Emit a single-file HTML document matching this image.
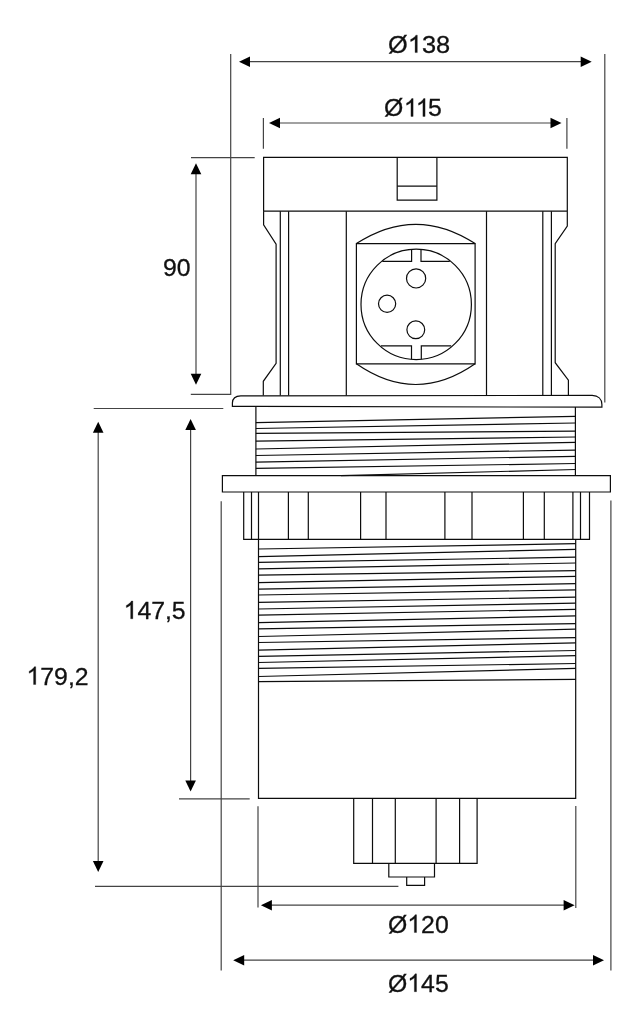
<!DOCTYPE html>
<html><head><meta charset="utf-8"><title>Dimensions</title>
<style>
html,body{margin:0;padding:0;background:#fff;}
body{width:643px;height:1009px;overflow:hidden;}
svg{display:block;will-change:transform;}
text{font-family:"Liberation Sans",sans-serif;fill:#111;stroke:#111;stroke-width:0.3px;}
.h{fill:none;stroke:none;}
</style></head><body>
<svg width="643" height="1009" viewBox="0 0 643 1009">
<rect width="643" height="1009" fill="#fff"/>
<line x1="230.7" y1="54" x2="230.7" y2="394.9" stroke="#444444" stroke-width="1.2"/>
<line x1="604.8" y1="54" x2="604.8" y2="402.5" stroke="#444444" stroke-width="1.2"/>
<line x1="245" y1="61.7" x2="586" y2="61.7" stroke="#444444" stroke-width="1.2"/>
<polygon points="239.0,61.7 250.0,56.400000000000006 250.0,67.0" fill="#000"/>
<polygon points="591.7,61.7 580.7,56.400000000000006 580.7,67.0" fill="#000"/>
<g transform="translate(388.1,52.6) scale(1.045,1)"><text y="0" font-size="24.3" x="0.00 18.90 32.42 45.93">Ø<tspan class="h">1</tspan>38</text><path d="M763 0H583V1147Q518 1085 412.5 1023Q307 961 223 930V1104Q374 1175 487 1276Q600 1377 647 1472H763Z" transform="translate(18.90,0) scale(0.01187,-0.01187)" fill="#111" stroke="#111" stroke-width="25.3"/></g>
<line x1="263.4" y1="118" x2="263.4" y2="148.8" stroke="#444444" stroke-width="1.2"/>
<line x1="566.9" y1="118" x2="566.9" y2="148.8" stroke="#444444" stroke-width="1.2"/>
<line x1="275" y1="123" x2="556" y2="123" stroke="#444444" stroke-width="1.2"/>
<polygon points="269,123 280,117.7 280,128.3" fill="#000"/>
<polygon points="561.5,123 550.5,117.7 550.5,128.3" fill="#000"/>
<g transform="translate(384.0,116.4) scale(1.0,1)"><text y="0" font-size="24.8" x="0.00 19.89 31.84 44.04">Ø<tspan class="h">1</tspan><tspan class="h">1</tspan>5</text><path d="M763 0H583V1147Q518 1085 412.5 1023Q307 961 223 930V1104Q374 1175 487 1276Q600 1377 647 1472H763Z" transform="translate(19.89,0) scale(0.01211,-0.01211)" fill="#111" stroke="#111" stroke-width="24.8"/><path d="M763 0H583V1147Q518 1085 412.5 1023Q307 961 223 930V1104Q374 1175 487 1276Q600 1377 647 1472H763Z" transform="translate(31.84,0) scale(0.01211,-0.01211)" fill="#111" stroke="#111" stroke-width="24.8"/></g>
<line x1="191" y1="157.7" x2="254.7" y2="157.7" stroke="#444444" stroke-width="1.2"/>
<line x1="190.8" y1="394.45" x2="230.7" y2="394.45" stroke="#444444" stroke-width="1.2"/>
<line x1="196" y1="170" x2="196" y2="378" stroke="#444444" stroke-width="1.2"/>
<polygon points="196,163.3 190.7,174.3 201.3,174.3" fill="#000"/>
<polygon points="196,384.7 190.7,373.7 201.3,373.7" fill="#000"/>
<g transform="translate(162.9,276.4) scale(1.0,1)"><text y="0" font-size="24.8" x="0.00 13.79">90</text></g>
<line x1="93.7" y1="408.5" x2="223.3" y2="408.5" stroke="#444444" stroke-width="1.2"/>
<line x1="190.6" y1="425" x2="190.6" y2="785" stroke="#444444" stroke-width="1.2"/>
<polygon points="190.6,419 185.29999999999998,430 195.9,430" fill="#000"/>
<polygon points="190.6,791.5 185.29999999999998,780.5 195.9,780.5" fill="#000"/>
<line x1="179" y1="798.8" x2="249.7" y2="798.8" stroke="#444444" stroke-width="1.2"/>
<g transform="translate(123.6,618.8) scale(1.0,1)"><text y="0" font-size="24.8" x="0.00 13.79 27.59 41.38 48.27"><tspan class="h">1</tspan>47,5</text><path d="M763 0H583V1147Q518 1085 412.5 1023Q307 961 223 930V1104Q374 1175 487 1276Q600 1377 647 1472H763Z" transform="translate(0.00,0) scale(0.01211,-0.01211)" fill="#111" stroke="#111" stroke-width="24.8"/></g>
<line x1="98.2" y1="428" x2="98.2" y2="866" stroke="#444444" stroke-width="1.2"/>
<polygon points="98.2,421.8 92.9,432.8 103.5,432.8" fill="#000"/>
<polygon points="98.2,872 92.9,861 103.5,861" fill="#000"/>
<line x1="95" y1="886.4" x2="398.4" y2="886.4" stroke="#444444" stroke-width="1.2"/>
<g transform="translate(26.5,684.5) scale(1.0,1)"><text y="0" font-size="24.8" x="0.00 13.79 27.59 41.38 48.27"><tspan class="h">1</tspan>79,2</text><path d="M763 0H583V1147Q518 1085 412.5 1023Q307 961 223 930V1104Q374 1175 487 1276Q600 1377 647 1472H763Z" transform="translate(0.00,0) scale(0.01211,-0.01211)" fill="#111" stroke="#111" stroke-width="24.8"/></g>
<line x1="258" y1="806.3" x2="258" y2="907.5" stroke="#444444" stroke-width="1.2"/>
<line x1="575.8" y1="806" x2="575.8" y2="907.9" stroke="#444444" stroke-width="1.2"/>
<line x1="266" y1="905.2" x2="569" y2="905.2" stroke="#444444" stroke-width="1.2"/>
<polygon points="260.9,905.2 271.9,899.9000000000001 271.9,910.5" fill="#000"/>
<polygon points="574.6,905.2 563.6,899.9000000000001 563.6,910.5" fill="#000"/>
<g transform="translate(388.0,932.5) scale(1.0,1)"><text y="0" font-size="24.8" x="0.00 19.29 33.08 46.88">Ø<tspan class="h">1</tspan>20</text><path d="M763 0H583V1147Q518 1085 412.5 1023Q307 961 223 930V1104Q374 1175 487 1276Q600 1377 647 1472H763Z" transform="translate(19.29,0) scale(0.01211,-0.01211)" fill="#111" stroke="#111" stroke-width="24.8"/></g>
<line x1="221.2" y1="501.3" x2="221.2" y2="970.5" stroke="#444444" stroke-width="1.2"/>
<line x1="610.9" y1="500.5" x2="610.9" y2="970.5" stroke="#444444" stroke-width="1.2"/>
<line x1="239" y1="960.2" x2="598" y2="960.2" stroke="#444444" stroke-width="1.2"/>
<polygon points="233.2,960.2 244.2,954.9000000000001 244.2,965.5" fill="#000"/>
<polygon points="604,960.2 593,954.9000000000001 593,965.5" fill="#000"/>
<g transform="translate(388.0,991.7) scale(1.0,1)"><text y="0" font-size="24.8" x="0.00 19.29 33.08 46.88">Ø<tspan class="h">1</tspan>45</text><path d="M763 0H583V1147Q518 1085 412.5 1023Q307 961 223 930V1104Q374 1175 487 1276Q600 1377 647 1472H763Z" transform="translate(19.29,0) scale(0.01211,-0.01211)" fill="#111" stroke="#111" stroke-width="24.8"/></g>
<path d="M263.6,157.4 H567.3 V211.2 H263.6 Z" stroke="#0c0c0c" stroke-width="1.2" fill="none"/>
<path d="M397.2,157.4 V200.2 H436.9 V157.4" stroke="#0c0c0c" stroke-width="1.2" fill="none"/>
<line x1="397.2" y1="186.2" x2="436.9" y2="186.2" stroke="#0c0c0c" stroke-width="1.2"/>
<path d="M263.6,211.2 V224.8 L276.1,244.1 V363.4 L263.3,381.3 V395.6" stroke="#0c0c0c" stroke-width="1.2" fill="none"/>
<path d="M567.3,211.2 V226 L555.2,243.6 V362.7 L568.4,380.2 V395.6" stroke="#0c0c0c" stroke-width="1.2" fill="none"/>
<line x1="280.3" y1="211.2" x2="280.3" y2="395.6" stroke="#0c0c0c" stroke-width="1.2"/>
<line x1="288.6" y1="211.2" x2="288.6" y2="395.6" stroke="#0c0c0c" stroke-width="1.2"/>
<line x1="346.3" y1="211.2" x2="346.3" y2="395.6" stroke="#0c0c0c" stroke-width="1.2"/>
<line x1="486.5" y1="211.2" x2="486.5" y2="395.6" stroke="#0c0c0c" stroke-width="1.2"/>
<line x1="542.8" y1="211.2" x2="542.8" y2="395.6" stroke="#0c0c0c" stroke-width="1.2"/>
<line x1="551.4" y1="211.2" x2="551.4" y2="395.6" stroke="#0c0c0c" stroke-width="1.2"/>
<path d="M356.4,243.6 H475.1 V363.8 H356.4 Z" stroke="#0c0c0c" stroke-width="1.2" fill="none"/>
<path d="M356.4,243.6 Q415.8,205 475.1,243.6" stroke="#0c0c0c" stroke-width="1.2" fill="none"/>
<path d="M356.4,363.8 Q415.8,405.2 475.1,363.8" stroke="#0c0c0c" stroke-width="1.2" fill="none"/>
<circle cx="416.2" cy="304.4" r="55.2" stroke="#0c0c0c" stroke-width="1.2" fill="none"/>
<path d="M382.3,261.3 H411.6 V249.5" stroke="#0c0c0c" stroke-width="1.2" fill="none"/>
<path d="M449.8,261.3 H421 V249.5" stroke="#0c0c0c" stroke-width="1.2" fill="none"/>
<path d="M381,345.8 H411.5 V359.3" stroke="#0c0c0c" stroke-width="1.2" fill="none"/>
<path d="M451.2,345.8 H421.3 V359.3" stroke="#0c0c0c" stroke-width="1.2" fill="none"/>
<circle cx="416.1" cy="278.4" r="9.6" stroke="#0c0c0c" stroke-width="1.2" fill="none"/>
<circle cx="387.1" cy="303.8" r="8.6" stroke="#0c0c0c" stroke-width="1.2" fill="none"/>
<circle cx="415.8" cy="329.8" r="8.9" stroke="#0c0c0c" stroke-width="1.2" fill="none"/>
<path d="M232.4,406.4 V402.9 Q232.6,396.1 240.8,395.9 L592.2,395.4 C598,395.6 601.9,399 601.9,404.6 V407.2 Z" stroke="#0c0c0c" stroke-width="1.2" fill="none"/>
<line x1="255.9" y1="406.5" x2="255.9" y2="475.7" stroke="#0c0c0c" stroke-width="1.2"/>
<line x1="575.4" y1="407.1" x2="575.4" y2="475.7" stroke="#0c0c0c" stroke-width="1.2"/>
<line x1="255.9" y1="422.6" x2="575.3" y2="416.3" stroke="#0c0c0c" stroke-width="1.2"/>
<line x1="255.9" y1="428.5" x2="575.3" y2="423" stroke="#0c0c0c" stroke-width="1.2"/>
<line x1="255.9" y1="433.4" x2="575.3" y2="431.1" stroke="#0c0c0c" stroke-width="1.2"/>
<line x1="255.9" y1="441.2" x2="575.3" y2="437" stroke="#0c0c0c" stroke-width="1.2"/>
<line x1="255.9" y1="449" x2="575.3" y2="442.3" stroke="#0c0c0c" stroke-width="1.2"/>
<line x1="255.9" y1="455.5" x2="575.3" y2="450.1" stroke="#0c0c0c" stroke-width="1.2"/>
<line x1="255.9" y1="462.2" x2="575.3" y2="456.3" stroke="#0c0c0c" stroke-width="1.2"/>
<line x1="255.9" y1="468.4" x2="575.3" y2="463.5" stroke="#0c0c0c" stroke-width="1.2"/>
<line x1="341" y1="475.7" x2="575.3" y2="469.5" stroke="#0c0c0c" stroke-width="1.2"/>
<path d="M222.4,475.7 H610.4 V492 H222.4 Z" stroke="#0c0c0c" stroke-width="1.2" fill="none"/>
<path d="M243.7,492 V539.3 H589.5 V492" stroke="#0c0c0c" stroke-width="1.2" fill="none"/>
<line x1="251.5" y1="492" x2="251.5" y2="539.3" stroke="#0c0c0c" stroke-width="1.2"/>
<line x1="258.5" y1="492" x2="258.5" y2="539.3" stroke="#0c0c0c" stroke-width="1.2"/>
<line x1="288.4" y1="492" x2="288.4" y2="539.3" stroke="#0c0c0c" stroke-width="1.2"/>
<line x1="308.3" y1="492" x2="308.3" y2="539.3" stroke="#0c0c0c" stroke-width="1.2"/>
<line x1="360.6" y1="492" x2="360.6" y2="539.3" stroke="#0c0c0c" stroke-width="1.2"/>
<line x1="386" y1="492" x2="386" y2="539.3" stroke="#0c0c0c" stroke-width="1.2"/>
<line x1="444.9" y1="492" x2="444.9" y2="539.3" stroke="#0c0c0c" stroke-width="1.2"/>
<line x1="472" y1="492" x2="472" y2="539.3" stroke="#0c0c0c" stroke-width="1.2"/>
<line x1="523.4" y1="492" x2="523.4" y2="539.3" stroke="#0c0c0c" stroke-width="1.2"/>
<line x1="544.3" y1="492" x2="544.3" y2="539.3" stroke="#0c0c0c" stroke-width="1.2"/>
<line x1="572.9" y1="492" x2="572.9" y2="539.3" stroke="#0c0c0c" stroke-width="1.2"/>
<line x1="580.5" y1="492" x2="580.5" y2="539.3" stroke="#0c0c0c" stroke-width="1.2"/>
<path d="M258.5,539.3 V798.3 H575.7 V539.3" stroke="#0c0c0c" stroke-width="1.2" fill="none"/>
<line x1="258.5" y1="549" x2="575.7" y2="543.7" stroke="#0c0c0c" stroke-width="1.2"/>
<line x1="258.5" y1="556.7" x2="575.7" y2="549.4" stroke="#0c0c0c" stroke-width="1.2"/>
<line x1="258.5" y1="562.3" x2="575.7" y2="557.2" stroke="#0c0c0c" stroke-width="1.2"/>
<line x1="258.5" y1="568.9" x2="575.7" y2="563" stroke="#0c0c0c" stroke-width="1.2"/>
<line x1="258.5" y1="575.1" x2="575.7" y2="570.7" stroke="#0c0c0c" stroke-width="1.2"/>
<line x1="258.5" y1="582.6" x2="575.7" y2="576.3" stroke="#0c0c0c" stroke-width="1.2"/>
<line x1="258.5" y1="589.1" x2="575.7" y2="583.7" stroke="#0c0c0c" stroke-width="1.2"/>
<line x1="258.5" y1="595" x2="575.7" y2="589.9" stroke="#0c0c0c" stroke-width="1.2"/>
<line x1="258.5" y1="602.3" x2="575.7" y2="597.2" stroke="#0c0c0c" stroke-width="1.2"/>
<line x1="258.5" y1="609" x2="575.7" y2="603.1" stroke="#0c0c0c" stroke-width="1.2"/>
<line x1="258.5" y1="615.1" x2="575.7" y2="609.3" stroke="#0c0c0c" stroke-width="1.2"/>
<line x1="258.5" y1="622.6" x2="575.7" y2="615.9" stroke="#0c0c0c" stroke-width="1.2"/>
<line x1="258.5" y1="628.8" x2="575.7" y2="623.6" stroke="#0c0c0c" stroke-width="1.2"/>
<line x1="258.5" y1="636.5" x2="575.7" y2="629.2" stroke="#0c0c0c" stroke-width="1.2"/>
<line x1="258.5" y1="642.5" x2="575.7" y2="637.6" stroke="#0c0c0c" stroke-width="1.2"/>
<line x1="258.5" y1="650.2" x2="575.7" y2="642.8" stroke="#0c0c0c" stroke-width="1.2"/>
<line x1="258.5" y1="656.3" x2="575.7" y2="650.5" stroke="#0c0c0c" stroke-width="1.2"/>
<line x1="258.5" y1="662.5" x2="575.7" y2="655.7" stroke="#0c0c0c" stroke-width="1.2"/>
<line x1="258.5" y1="668.4" x2="575.7" y2="663.5" stroke="#0c0c0c" stroke-width="1.2"/>
<line x1="258.5" y1="676.5" x2="575.7" y2="668.4" stroke="#0c0c0c" stroke-width="1.2"/>
<line x1="258.5" y1="681.6" x2="575.7" y2="679.3" stroke="#0c0c0c" stroke-width="1.2"/>
<path d="M353.7,798.3 V863.4 H477.1 V798.3" stroke="#0c0c0c" stroke-width="1.2" fill="none"/>
<line x1="372.5" y1="798.3" x2="372.5" y2="863.4" stroke="#0c0c0c" stroke-width="1.2"/>
<line x1="395.3" y1="798.3" x2="395.3" y2="863.4" stroke="#0c0c0c" stroke-width="1.2"/>
<line x1="436.1" y1="798.3" x2="436.1" y2="863.4" stroke="#0c0c0c" stroke-width="1.2"/>
<line x1="459.6" y1="798.3" x2="459.6" y2="863.4" stroke="#0c0c0c" stroke-width="1.2"/>
<path d="M388.8,863.4 V877 H434.5 V863.4" stroke="#0c0c0c" stroke-width="1.2" fill="none"/>
<path d="M406.7,877 V885.3 H424.6 V877" stroke="#0c0c0c" stroke-width="1.2" fill="none"/>
</svg>
</body></html>
